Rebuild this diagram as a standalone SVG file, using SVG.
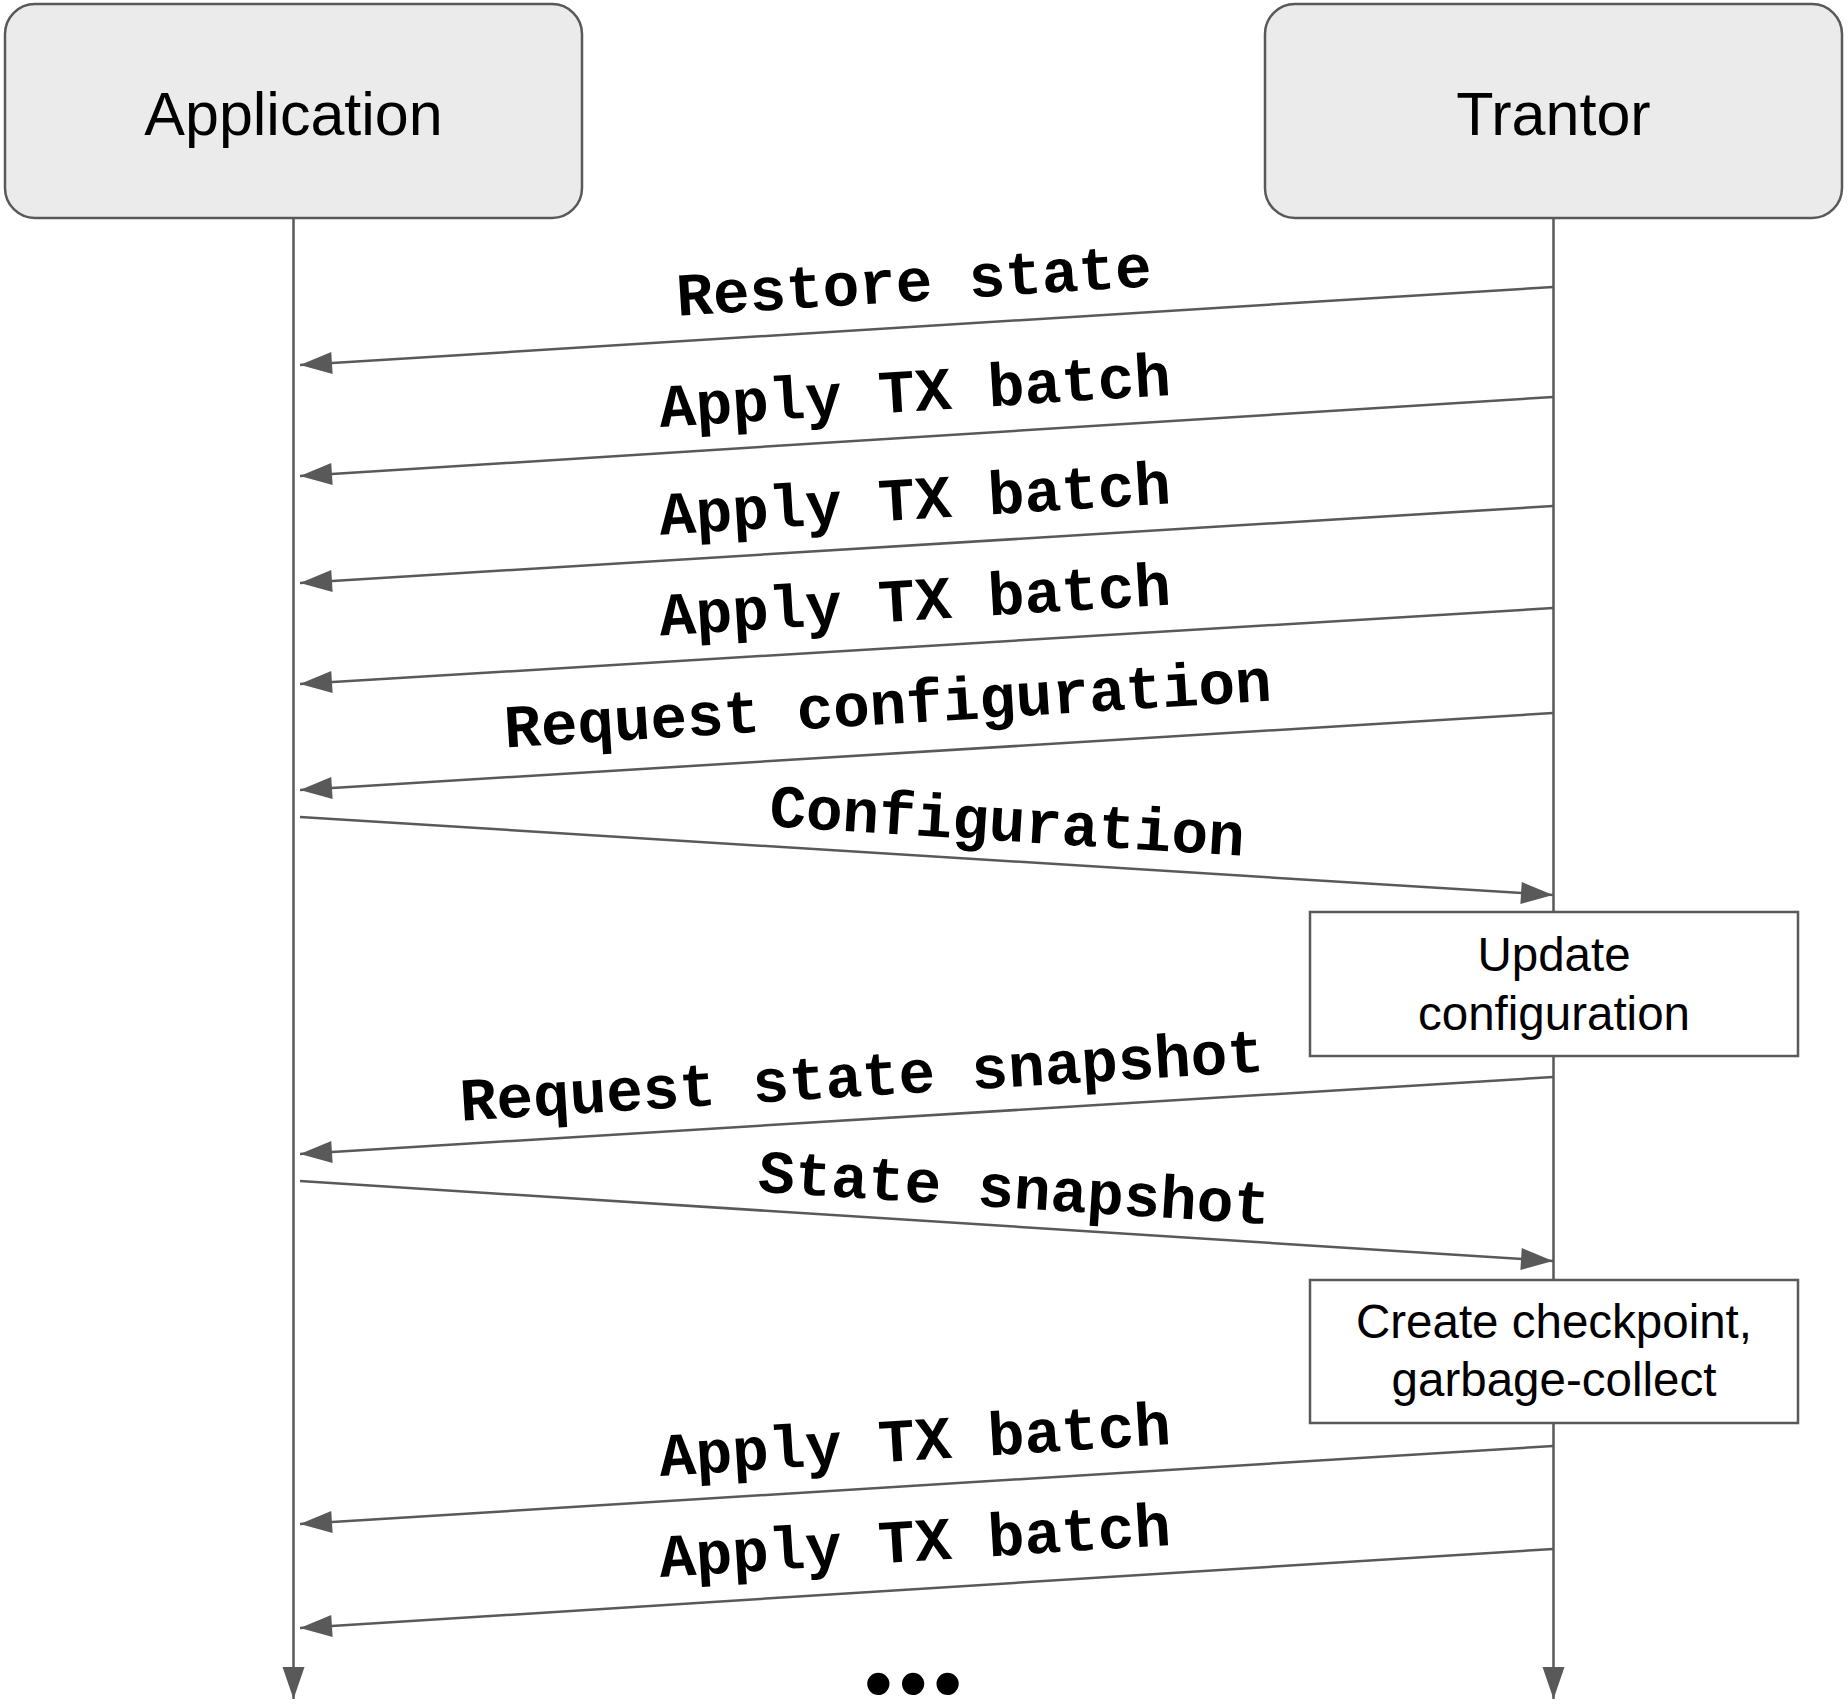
<svg xmlns="http://www.w3.org/2000/svg" width="1848" height="1704" viewBox="0 0 1848 1704">
<style>
.hdr{fill:#ebebeb;stroke:#595959;stroke-width:2.5}
.box{fill:#ffffff;stroke:#595959;stroke-width:2.5}
.ttl{font-family:"Liberation Sans",Arial,sans-serif;font-size:61px;fill:#000;text-anchor:middle}
.btx{font-family:"Liberation Sans",Arial,sans-serif;font-size:47.5px;fill:#000;text-anchor:middle}
.msg{font-family:"Liberation Mono","Courier New",monospace;font-weight:bold;font-size:61px;fill:#000;text-anchor:middle}
.ln{stroke:#595959;stroke-width:2.5;fill:none;marker-end:url(#ah)}
.dots{font-family:"Liberation Sans",Arial,sans-serif;font-size:82px;letter-spacing:6px;fill:#000;text-anchor:middle;dominant-baseline:central}
</style>
<defs>
<marker id="ah" markerUnits="userSpaceOnUse" markerWidth="32" markerHeight="22" refX="32" refY="11" orient="auto" overflow="visible">
<path d="M0,0 L32,11 L0,22 z" fill="#595959"/>
</marker>
</defs>
<rect width="1848" height="1704" fill="#ffffff"/>
<g id="connectors">
<line class="ln" x1="293.5" y1="218" x2="293.5" y2="1699"/>
<line class="ln" x1="1553.5" y1="218" x2="1553.5" y2="1699"/>
<line class="ln" x1="1553" y1="287" x2="300" y2="365"/>
<line class="ln" x1="1553" y1="397" x2="300" y2="476"/>
<line class="ln" x1="1553" y1="506" x2="300" y2="583"/>
<line class="ln" x1="1553" y1="608" x2="300" y2="684"/>
<line class="ln" x1="1553" y1="713" x2="300" y2="790"/>
<line class="ln" x1="300" y1="817" x2="1553" y2="895"/>
<line class="ln" x1="1553" y1="1077" x2="300" y2="1154"/>
<line class="ln" x1="300" y1="1181" x2="1553" y2="1261"/>
<line class="ln" x1="1553" y1="1446" x2="300" y2="1524"/>
<line class="ln" x1="1553" y1="1549" x2="300" y2="1628"/>
</g>
<g id="labels">
<text class="msg" x="915" y="301" transform="rotate(-3.56 915 301)">Restore state</text>
<text class="msg" x="916" y="411" transform="rotate(-3.6 916 411)">Apply TX batch</text>
<text class="msg" x="916" y="519" transform="rotate(-3.52 916 519)">Apply TX batch</text>
<text class="msg" x="916" y="620" transform="rotate(-3.47 916 620)">Apply TX batch</text>
<text class="msg" x="889" y="724" transform="rotate(-3.52 889 724)">Request configuration</text>
<text class="msg" x="1006" y="841" transform="rotate(3.56 1006 841)">Configuration</text>
<text class="msg" x="863" y="1096" transform="rotate(-3.52 863 1096)">Request state snapshot</text>
<text class="msg" x="1013" y="1208" transform="rotate(3.65 1013 1208)">State snapshot</text>
<text class="msg" x="916" y="1460" transform="rotate(-3.56 916 1460)">Apply TX batch</text>
<text class="msg" x="916" y="1561" transform="rotate(-3.6 916 1561)">Apply TX batch</text>
<text class="dots" x="916" y="1682">•••</text>
</g>
<g id="node-application">
<rect class="hdr" x="5" y="4" width="577" height="214" rx="30" ry="30"/>
<text class="ttl" x="293.5" y="135">Application</text>
</g>
<g id="node-trantor">
<rect class="hdr" x="1265" y="4" width="577" height="214" rx="30" ry="30"/>
<text class="ttl" x="1553.5" y="135">Trantor</text>
</g>
<g id="node-update-configuration">
<rect class="box" x="1310" y="912" width="488" height="144"/>
<text class="btx" x="1554" y="971">Update</text>
<text class="btx" x="1554" y="1030">configuration</text>
</g>
<g id="node-create-checkpoint">
<rect class="box" x="1310" y="1280" width="488" height="143"/>
<text class="btx" x="1554" y="1338">Create checkpoint,</text>
<text class="btx" x="1554" y="1396">garbage-collect</text>
</g>
</svg>
